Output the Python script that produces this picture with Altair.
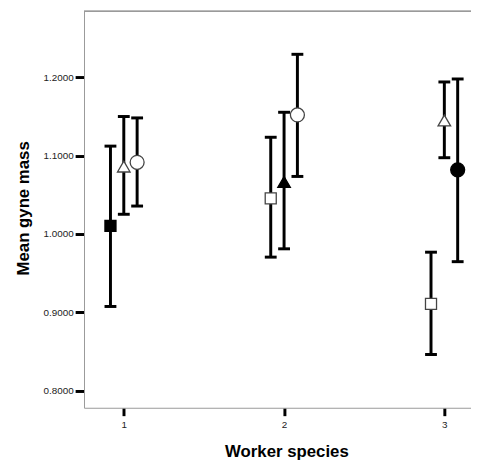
import altair as alt
import pandas as pd

# Worker species groups, series (marker) and whether the marker is filled
groups = [1, 1, 1, 2, 2, 2, 3, 3, 3]
series = ["square", "triangle", "circle"] * 3
filled = ["yes", "no", "no", "no", "yes", "no", "no", "no", "yes"]

# Mean gyne mass and error bar limits
means = [1.0105, 1.0861, 1.0915, 1.0454, 1.0665, 1.1520, 0.9109, 1.1449, 1.0819]
lower = [0.9075, 1.0252, 1.0357, 0.9705, 0.9811, 1.0735, 0.8462, 1.0974, 0.9647]
upper = [1.1122, 1.1500, 1.1482, 1.1235, 1.1554, 1.2294, 0.9768, 1.1941, 1.1979]

y_ticks = [0.8, 0.9, 1.0, 1.1, 1.2]
x_ticks = [1, 2, 3]

df = pd.DataFrame({
    "group": groups, "series": series, "filled": filled,
    "mean": means, "lower": lower, "upper": upper,
})

W, H = 392, 402
xs = alt.Scale(domain=[0.7518, 0.7518 + W / 162.35], nice=False, zero=False)
ys = alt.Scale(domain=[0.7782, 1.2848], nice=False, zero=False)

base = alt.Chart(df).transform_calculate(
    xpos="datum.group + (indexof(['square','triangle','circle'], datum.series) - 1) * 0.0832"
)

x_enc = alt.X("xpos:Q", scale=xs, axis=alt.Axis(
    values=x_ticks, format="d", title="Worker species", tickSize=8,
    labelPadding=4, titleX=205, titleY=49.5, titleAlign="center",
    titleBaseline="alphabetic", grid=False))

bars = base.mark_rule(color="black", strokeWidth=3, opacity=1).encode(
    x=x_enc,
    y=alt.Y("lower:Q", scale=ys, axis=alt.Axis(
        values=y_ticks, format=".4f", title="Mean gyne mass", tickSize=9,
        labelPadding=2, titleX=-56, titleY=199.5, titleAlign="center",
        titleBaseline="alphabetic", titleAngle=270, grid=False)),
    y2="upper:Q",
)

caps_lo = base.mark_tick(color="black", orient="horizontal", size=12, thickness=3, opacity=1).encode(
    x=alt.X("xpos:Q", scale=xs), y=alt.Y("lower:Q", scale=ys))
caps_hi = base.mark_tick(color="black", orient="horizontal", size=12, thickness=3, opacity=1).encode(
    x=alt.X("xpos:Q", scale=xs), y=alt.Y("upper:Q", scale=ys))

points = base.mark_point(strokeWidth=1.3, opacity=1, filled=False).encode(
    x=alt.X("xpos:Q", scale=xs),
    y=alt.Y("mean:Q", scale=ys),
    shape=alt.Shape("series:N", scale=alt.Scale(
        domain=["square", "triangle", "circle"],
        range=["square", "triangle-up", "circle"]), legend=None),
    size=alt.Size("series:N", scale=alt.Scale(
        domain=["square", "triangle", "circle"], range=[125, 200, 135]), legend=None),
    fill=alt.Fill("filled:N", scale=alt.Scale(domain=["yes", "no"], range=["black", "white"]), legend=None),
    stroke=alt.Stroke("filled:N", scale=alt.Scale(domain=["yes", "no"], range=["black", "#444444"]), legend=None),
)

top_border = alt.Chart(df).mark_rule(color="#999999", strokeWidth=1).encode(
    x=alt.value(0), x2=alt.value(W), y=alt.value(0.5))

chart = alt.layer(top_border, bars, caps_lo, caps_hi, points).properties(
    width=W, height=H,
    autosize=alt.AutoSizeParams(type="none"),
    padding={"left": 77, "top": 0, "right": 0, "bottom": 53},
).configure_view(stroke=None).configure_axis(
    domainColor="#999999", domainWidth=1,
    tickColor="black", tickWidth=3,
    labelFont="Liberation Sans", labelFontSize=10, labelColor="#222222",
    titleFont="Liberation Sans", titleFontSize=17, titleFontWeight="bold", titleColor="black",
)

chart.save("out.html", embed_options={"renderer": "svg", "actions": False})
